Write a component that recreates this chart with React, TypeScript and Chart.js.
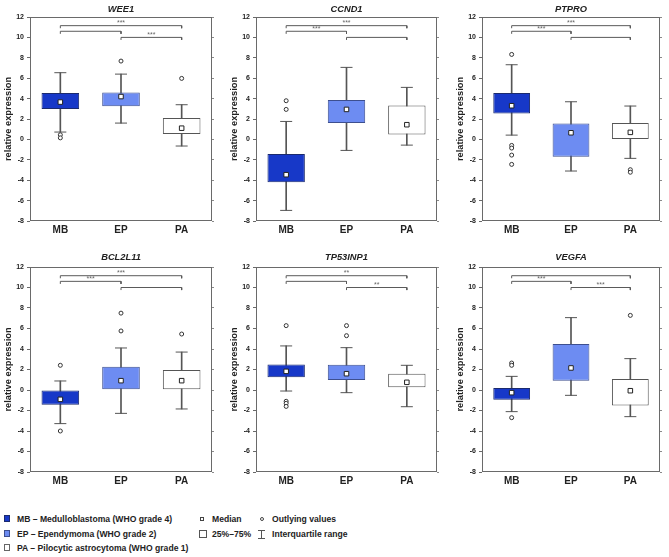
import React, { useEffect, useRef } from 'react';
import { Chart, registerables } from 'chart.js';
Chart.register(...registerables);

// ---------- data ----------
const categories = ['MB', 'EP', 'PA'];
const genes = ['WEE1', 'CCND1', 'PTPRO', 'BCL2L11', 'TP53INP1', 'VEGFA'];
const yTicks = [-8, -6, -4, -2, 0, 2, 4, 6, 8, 10, 12];

const lowerQuartile = [
  [2.97, 3.24, 0.52],
  [-4.2, 1.6, 0.49],
  [2.55, -1.7, 0.0],
  [-1.43, 0.07, 0.07],
  [1.24, 0.98, 0.26],
  [-0.94, 0.91, -1.5],
];
const upperQuartile = [
  [4.54, 4.6, 2.09],
  [-1.44, 3.86, 3.33],
  [4.54, 1.57, 1.6],
  [0.0, 2.28, 1.95],
  [2.5, 2.47, 1.59],
  [0.2, 4.49, 1.07],
];
const medians = [
  [3.66, 4.2, 1.1],
  [-3.46, 2.94, 1.44],
  [3.3, 0.65, 0.69],
  [-0.91, 0.91, 0.91],
  [1.82, 1.59, 0.75],
  [-0.26, 2.15, -0.07],
];
const whiskerLow = [
  [0.72, 1.6, -0.65],
  [-6.96, -1.08, -0.56],
  [0.42, -3.1, -1.86],
  [-3.28, -2.28, -1.85],
  [-0.1, -0.26, -1.63],
  [-2.11, -0.52, -2.6],
];
const whiskerHigh = [
  [6.54, 6.4, 3.4],
  [1.76, 7.06, 5.1],
  [7.32, 3.69, 3.27],
  [0.88, 4.1, 3.7],
  [4.3, 4.13, 2.41],
  [1.33, 7.06, 3.06],
];
const outliers = [
  [[0.45, 0.15], [7.68], [5.98]],
  [[3.79, 2.94], [], []],
  [[8.33, -0.59, -0.85, -1.54, -2.45], [], [-2.97, -3.22]],
  [[2.41, -4.0], [5.76, 7.5], [5.46]],
  [[6.28, -1.1, -1.3, -1.6], [6.28, 5.3], []],
  [[2.63, 2.41, -2.7], [], [7.28]],
];
const bracketLevels = [11.15, 10.6, 10.0];
const bracketPairs = [[0, 2], [0, 1], [1, 2]];
const significance = [
  ['***', '', '***'],
  ['***', '***', ''],
  ['***', '***', ''],
  ['***', '***', ''],
  ['**', '', '**'],
  ['', '***', '***'],
];

// ---------- style ----------
const groupFill = ['#1738c8', '#6d8cf2', '#ffffff'];
const groupBorder = ['#1b2a6e', '#3d4f8f', '#555555'];
const FONT = '"Liberation Sans", Arial, sans-serif';
const colLeft = [30, 256, 482];
const colWidth = [185, 184, 181];
const rowTop = [17, 267];
const rowHeight = [204, 205];
const titleOffset = [8, 9.5];
const TOP_PAD = 17;
const AXIS_W = 30;
const AXIS_H = 24;
const RIGHT_W = 4;

function Panel({ gi }: { gi: number }) {
  const ref = useRef<HTMLCanvasElement>(null);
  const col = gi % 3;
  const row = Math.floor(gi / 3);
  const left = colLeft[col] - AXIS_W;
  const top = rowTop[row] - TOP_PAD;
  const width = AXIS_W + colWidth[col] + RIGHT_W;
  const height = TOP_PAD + rowHeight[row] + AXIS_H;

  useEffect(() => {
    const capPoints: any[] = [];
    const medPoints: any[] = [];
    const outPoints: any[] = [];
    categories.forEach((c, i) => {
      capPoints.push({ x: c, y: whiskerLow[gi][i] });
      capPoints.push({ x: c, y: whiskerHigh[gi][i] });
      medPoints.push({ x: c, y: medians[gi][i] });
      outliers[gi][i].forEach((v) => outPoints.push({ x: c, y: v }));
    });
    const bracketSets = bracketPairs.map(([a, b], k) => ({
      type: 'line' as const,
      data: [
        { x: categories[a], y: bracketLevels[k] - 0.25 },
        { x: categories[a], y: bracketLevels[k] },
        { x: categories[b], y: bracketLevels[k] },
        { x: categories[b], y: bracketLevels[k] - 0.25 },
      ],
      borderColor: '#5a5a5a',
      borderWidth: 1,
      pointRadius: 0,
      tension: 0,
      fill: false,
      order: 6,
    }));

    const decor = {
      id: 'decor' + gi,
      afterDraw(chart: any) {
        const { ctx, chartArea } = chart;
        const xs = chart.scales.x;
        const ys = chart.scales.y;
        ctx.save();
        ctx.strokeStyle = '#6a6a6a';
        ctx.lineWidth = 1;
        ctx.strokeRect(
          Math.round(chartArea.left) + 0.5,
          Math.round(chartArea.top) + 0.5,
          Math.round(chartArea.right - chartArea.left) - 1,
          Math.round(chartArea.bottom - chartArea.top) - 1
        );
        // significance labels
        ctx.font = `7px ${FONT}`;
        ctx.fillStyle = '#666';
        ctx.textAlign = 'center';
        ctx.textBaseline = 'bottom';
        bracketPairs.forEach(([a, b], k) => {
          const label = significance[gi][k];
          if (!label) return;
          const x = (xs.getPixelForValue(a) + xs.getPixelForValue(b)) / 2;
          const y = ys.getPixelForValue(bracketLevels[k]) + 1;
          ctx.fillText(label, x, y);
        });
        // panel title
        ctx.font = `italic bold 9.3px ${FONT}`;
        ctx.fillStyle = '#222';
        ctx.textBaseline = 'middle';
        ctx.fillText(genes[gi], (chartArea.left + chartArea.right) / 2, chartArea.top - titleOffset[row]);
        ctx.restore();
      },
    };

    const chart = new Chart(ref.current!, {
      type: 'bar',
      data: {
        labels: categories,
        datasets: [
          {
            type: 'bar',
            data: categories.map((_, i) => [whiskerLow[gi][i], whiskerHigh[gi][i]]),
            backgroundColor: '#555555',
            borderWidth: 0,
            barThickness: 1,
            grouped: false,
            order: 5,
          } as any,
          {
            type: 'bar',
            data: categories.map((_, i) => [lowerQuartile[gi][i], upperQuartile[gi][i]]),
            backgroundColor: groupFill,
            borderColor: groupBorder,
            borderWidth: 1,
            borderSkipped: false,
            barPercentage: 0.62,
            categoryPercentage: 1,
            grouped: false,
            order: 4,
          } as any,
          {
            type: 'line',
            data: capPoints,
            showLine: false,
            pointStyle: 'line',
            pointRadius: 6,
            pointBorderColor: '#555555',
            pointBorderWidth: 1,
            order: 3,
          } as any,
          {
            type: 'line',
            data: medPoints,
            showLine: false,
            pointStyle: 'rect',
            pointRadius: 3.2,
            pointBackgroundColor: '#ffffff',
            pointBorderColor: '#222222',
            pointBorderWidth: 1,
            order: 1,
          } as any,
          {
            type: 'line',
            data: outPoints,
            showLine: false,
            pointStyle: 'circle',
            pointRadius: 2,
            pointBackgroundColor: '#ffffff',
            pointBorderColor: '#333333',
            pointBorderWidth: 1,
            order: 1,
          } as any,
          ...(bracketSets as any[]),
        ],
      },
      options: {
        responsive: false,
        animation: false,
        events: [],
        layout: { padding: { top: TOP_PAD, right: 0, left: 0, bottom: 0 } },
        plugins: { legend: { display: false }, tooltip: { enabled: false }, title: { display: false } },
        scales: {
          x: {
            type: 'category',
            offset: true,
            grid: { display: false, drawTicks: false },
            border: { display: false },
            ticks: { color: '#222', font: { family: FONT, size: 10, weight: 'bold' }, padding: 3 },
            afterFit: (s: any) => { s.height = AXIS_H; },
          },
          y: {
            min: yTicks[0],
            max: yTicks[yTicks.length - 1],
            afterBuildTicks: (s: any) => { s.ticks = yTicks.map((v) => ({ value: v })); },
            grid: { drawOnChartArea: false, drawTicks: true, tickLength: 3, color: '#6a6a6a' },
            border: { display: false },
            ticks: {
              color: '#222',
              font: { family: FONT, size: 7, weight: 'bold' },
              padding: 3,
              autoSkip: false,
              callback: (v: any) => String(v),
            },
            title: {
              display: true,
              text: 'relative expression',
              color: '#222',
              font: { family: FONT, size: 9.3, weight: 'bold' },
              padding: { top: 3, bottom: 0 },
            },
            afterFit: (s: any) => { s.width = AXIS_W; },
          },
          y2: {
            position: 'right',
            min: yTicks[0],
            max: yTicks[yTicks.length - 1],
            afterBuildTicks: (s: any) => { s.ticks = yTicks.map((v) => ({ value: v })); },
            grid: { drawOnChartArea: false, drawTicks: true, tickLength: 2, color: '#8a8a8a' },
            border: { display: false },
            ticks: { display: false },
            afterFit: (s: any) => { s.width = RIGHT_W; },
          },
        },
      } as any,
      plugins: [decor],
    });
    return () => chart.destroy();
  }, [gi]);

  return (
    <canvas
      ref={ref}
      width={width}
      height={height}
      style={{ position: 'absolute', left, top, width, height }}
    />
  );
}

const legendLeft = [
  { label: 'MB \u2013 Medulloblastoma (WHO grade 4)', fill: groupFill[0], border: groupBorder[0] },
  { label: 'EP \u2013 Ependymoma (WHO grade 2)', fill: groupFill[1], border: groupBorder[1] },
  { label: 'PA \u2013 Pilocytic astrocytoma (WHO grade 1)', fill: groupFill[2], border: '#666' },
];
const legendRowY = [519, 533.5, 548];

export default function App() {
  const textStyle: React.CSSProperties = {
    position: 'absolute',
    fontFamily: FONT,
    fontSize: 8.6,
    fontWeight: 'bold',
    color: '#222',
    whiteSpace: 'nowrap',
    lineHeight: '10px',
  };
  const wy = legendRowY[1];
  return (
    <div style={{ position: 'absolute', left: 0, top: 0, width: 669, height: 557, background: '#fff', overflow: 'hidden' }}>
      {genes.map((_, gi) => (
        <Panel key={gi} gi={gi} />
      ))}
      {legendLeft.map((it, i) => (
        <React.Fragment key={i}>
          <div
            style={{
              position: 'absolute',
              left: 4,
              top: legendRowY[i] - 4,
              width: 6,
              height: 7,
              background: it.fill,
              border: `1px solid ${it.border}`,
              boxSizing: 'border-box',
            }}
          />
          <div style={{ ...textStyle, left: 17, top: legendRowY[i] - 5 }}>{it.label}</div>
        </React.Fragment>
      ))}
      {/* median */}
      <div style={{ position: 'absolute', left: 200, top: legendRowY[0] - 2, width: 4, height: 4, border: '1px solid #444', boxSizing: 'border-box', background: '#fff' }} />
      <div style={{ ...textStyle, left: 212, top: legendRowY[0] - 5 }}>Median</div>
      {/* outlying */}
      <div style={{ position: 'absolute', left: 259.5, top: legendRowY[0] - 2.5, width: 4, height: 4, border: '1px solid #444', borderRadius: '50%', boxSizing: 'border-box', background: '#fff' }} />
      <div style={{ ...textStyle, left: 272, top: legendRowY[0] - 5 }}>Outlying values</div>
      {/* 25-75 */}
      <div style={{ position: 'absolute', left: 199, top: legendRowY[1] - 4, width: 8, height: 8, border: '1px solid #555', boxSizing: 'border-box', background: '#fff' }} />
      <div style={{ ...textStyle, left: 212, top: legendRowY[1] - 5 }}>25%{'\u2013'}75%</div>
      {/* whisker icon */}
      <div style={{ position: 'absolute', left: 258, top: wy - 4, width: 7, height: 1, background: '#555' }} />
      <div style={{ position: 'absolute', left: 261, top: wy - 4, width: 1, height: 8, background: '#555' }} />
      <div style={{ position: 'absolute', left: 258, top: wy + 4, width: 7, height: 1, background: '#555' }} />
      <div style={{ ...textStyle, left: 272, top: legendRowY[1] - 5 }}>Interquartile range</div>
    </div>
  );
}
